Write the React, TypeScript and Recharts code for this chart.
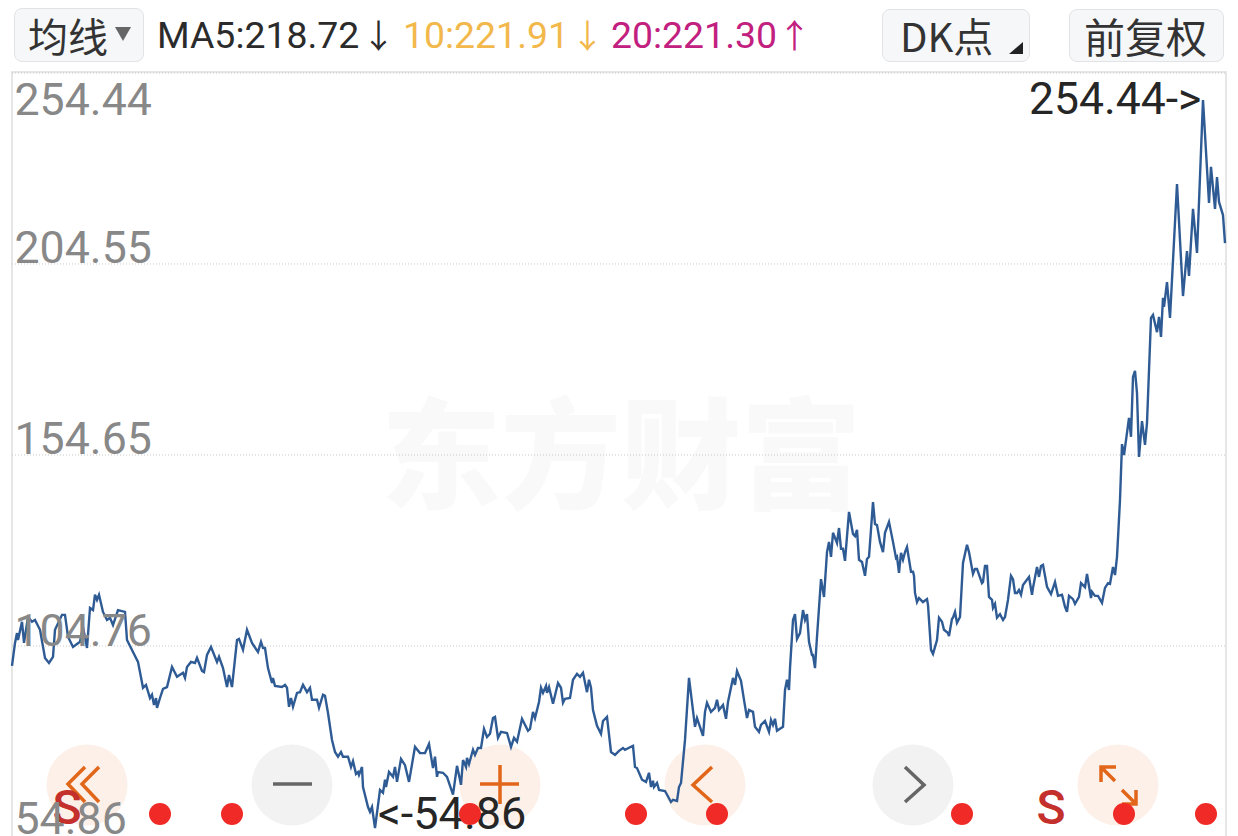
import React from "react";
import { ComposedChart, Line, XAxis, YAxis, CartesianGrid, ReferenceDot } from "recharts";

const sessions = [0,3,5,6,10,12,16,20,23,28,33,37,41,43,50,53,56,61,68,71,75,78,81,83,85,87,91,95,98,101,106,113,115,121,126,131,134,138,140,142,144,145,148,151,155,160,165,171,173,175,179,183,185,190,192,195,199,205,207,211,215,217,220,225,227,231,235,240,246,249,251,253,256,260,261,263,270,273,275,277,279,281,285,288,291,295,298,
300,305,307,311,313,316,320,323,326,329,331,336,339,341,344,346,347,350,351,356,358,360,363,368,371,373,374,377,381,383,385,389,393,397,403,408,413,417,421,423,425,426,431,435,441,445,449,451,454,455,457,461,463,466,469,472,475,478,481,483,486,489,495,499,502,505,510,516,518,521,523,527,529,531,534,535,537,541,546,549,551,553,558,561,565,568,571,575,577,579,581,585,589,591,595,599,603,607,611,613,621,623,625,630,634,637,639,641,642,645,647,653,659,661,665,667,669,673,677,683,685,691,693,695,699,703,705,707,711,714,716,721,723,725,729,732,735,737,741,743,747,749,753,757,759,761,763,765,771,773,775,777,778,781,783,785,788,791,793,795,797,800,801,803,805,809,812,815,817,819,821,825,827,829,831,833,837,841,843,845,847,850,853,855,857,861,863,865,868,871,873,877,881,884,885,887,889,891,893,895,899,901,902,903,905,907,911,915,916,919,921,925,927,930,932,936,937,940,941,943,945,948,951,955,957,961,963,965,970,971,973,975,977,980,981,983,985,988,991,993,996,999,1001,1003,1005,1007,1009,1011,1014,1017,1020,1021,1025,1027,1029,1031,1035,1039,1043,1046,1050,1053,1055,1057,1061,1063,1067,1069,1073,1075,1079,1080,1083,1086,1090,1093,1096,1098,1101,1103,1105,1108,1110,1112,1117,1119,1121,1123,1125,1127,1130,1133,1135,1139,1141,1145,1147,1149,1151,1152,1155,1158,1165,1171,1175,1177,1181,1185,1191,1197,1199,1203,1205,1207,1211,1213];

const closes = [99.3,105.6,108.3,106.4,111.4,105.6,112.7,111.4,111.9,109.2,101.5,100.1,101.8,109.2,113.3,113.3,107.3,104.5,105.9,110.0,104.2,115.2,114.6,118.8,117.4,118.8,114.1,111.9,112.5,110.5,114.6,114.1,106.4,103.1,100.4,93.3,94.1,90.5,91.4,88.6,90.5,87.8,90.5,93.0,93.5,99.0,96.3,97.4,96.0,99.0,100.4,100.1,101.5,97.9,97.6,102.3,104.5,100.4,101.8,98.7,93.5,96.8,93.5,106.4,106.7,103.7,109.2,105.6,103.1,105.9,104.2,104.2,98.7,94.6,96.0,93.8,93.5,94.1,93.3,88.1,90.5,88.1,91.9,92.1,94.1,92.1,93.3,
90.0,90.0,87.8,91.4,91.1,86.4,79.0,75.7,74.4,75.7,74.4,74.4,71.6,73.2,69.7,70.2,69.4,71.6,66.1,60.6,59.3,60.6,54.86,65.3,64.5,68.1,66.1,70.2,68.9,71.6,67.5,73.8,72.1,67.5,77.1,75.4,75.4,77.9,71.3,74.4,68.9,70.2,70.0,68.9,64.0,71.9,66.7,73.5,71.6,74.1,72.4,76.3,74.9,76.8,76.8,82.0,79.8,80.7,85.0,85.3,79.6,81.2,80.9,77.1,79.6,78.5,84.8,81.5,82.0,86.7,85.0,89.4,93.3,91.9,93.8,91.9,93.5,88.9,94.6,93.3,89.2,90.3,90.5,95.5,97.1,96.3,97.4,92.1,95.5,93.3,87.2,82.9,80.7,84.2,85.3,75.7,74.9,76.0,76.8,76.3,77.4,71.6,71.3,68.1,67.5,70.0,66.1,67.8,66.1,67.2,65.3,65.0,62.0,62.6,62.3,66.1,67.2,79.0,96.0,82.6,85.0,80.1,86.7,89.2,86.7,87.8,90.0,87.2,88.6,84.8,89.4,96.0,94.1,97.9,95.2,90.0,85.0,87.2,86.7,82.6,81.2,83.1,84.2,81.2,84.5,83.1,84.8,81.5,82.6,92.7,95.5,92.7,98.7,111.9,113.5,106.7,108.3,114.6,111.9,113.5,105.9,102.3,102.3,98.7,107.3,123.1,118.2,130.5,133.3,129.2,135.8,133.0,137.1,131.4,131.4,128.1,141.5,135.5,134.9,136.6,128.4,127.8,124.0,128.6,129.2,144.2,138.2,137.9,133.3,130.5,135.8,138.8,133.3,128.9,129.2,124.8,130.3,128.4,130.5,131.9,125.1,125.1,124.0,119.3,116.8,117.9,116.8,117.6,116.0,103.7,102.6,106.4,112.5,111.4,109.2,108.3,107.5,112.2,112.5,114.1,111.1,112.7,127.5,132.5,130.5,124.5,125.9,125.9,122.0,122.3,126.7,126.7,118.2,117.4,115.2,116.3,112.5,113.5,111.9,112.7,117.4,124.0,123.1,119.3,119.3,120.1,118.8,121.5,122.6,123.7,118.8,120.7,126.4,123.7,126.7,127.0,121.0,119.0,122.3,118.5,118.8,115.5,114.1,118.5,117.6,116.3,118.2,122.0,120.9,124.5,117.9,119.6,118.5,118.5,116.6,120.7,122.0,121.8,126.4,124.2,129.2,144.8,160.1,157.1,167.3,162.1,178.5,180.2,174.1,156.6,166.4,159.9,165.9,194.7,195.5,190.8,195.0,189.5,200.2,197.7,204.5,194.7,231.4,200.7,213.0,206.2,224.6,212.5,254.44,226.2,236.1,224.6,233.3,226.5,222.9,215.2];

const priceTicks = [254.44, 204.55, 154.65, 104.76, 54.86];
const buySignals = [148, 220, 458, 624, 705, 950, 1112, 1194];
const sellSignals = [55, 1039];
const signalLevel = 58.7;

const rows = sessions.map((session, i) => ({ session, close: closes[i] }));

const tickOffsets: Record<number, number> = { 254.44: 27, 204.55: -16, 154.65: -16, 104.76: -15, 54.86: -18 };
const LATIN = "Roboto, 'Noto Sans CJK SC', sans-serif";
const CJK = "'Noto Sans CJK SC', Roboto, sans-serif";

function Txt({ left, cy, size, color, font, children }: any) {
  return (
    <div style={{ position: "absolute", left, top: cy, transform: "translateY(-50%)", fontSize: size, color, fontFamily: font ?? LATIN, lineHeight: 1, whiteSpace: "nowrap" }}>
      {children}
    </div>
  );
}

function Btn({ left, top, width, height }: any) {
  return <div style={{ position: "absolute", left, top, width, height, boxSizing: "border-box", background: "#f6f7f9", border: "1px solid #e2e3e6", borderRadius: 8 }} />;
}

const PriceTick = (p: any) => (
  <text x={14.5} y={p.y + (tickOffsets[p.payload.value] ?? 0)} dominantBaseline="central" fontFamily={LATIN} fontSize={44.7} fill="#888888" textAnchor="start">
    {p.payload.value.toFixed(2)}
  </text>
);

const SellMark = (p: any) => (
  <text x={p.cx} y={p.cy - 6} textAnchor="middle" dominantBaseline="central" fontFamily="Roboto, sans-serif" fontWeight={500} fontSize={48} fill="#c4302b">S</text>
);

const buttons = [
  { cx: 87, bg: "#fdf0e8" },
  { cx: 292, bg: "#f2f2f2" },
  { cx: 500, bg: "#fdf0e8" },
  { cx: 705, bg: "#fdf0e8" },
  { cx: 913, bg: "#f2f2f2" },
  { cx: 1118, bg: "#fdf0e8" },
];

function NavIcons() {
  const o = "#e2661a";
  const g = "#666666";
  return (
    <svg width={1238} height={836} style={{ position: "absolute", left: 0, top: 0 }}>
      {buttons.map((b) => <circle key={b.cx} cx={b.cx} cy={785} r={40.5} fill={b.bg} />)}
      <g fill="none" strokeWidth={3.5}>
        <path d="M85 767 L68 784 L85 802 M99 767 L82 784 L99 802" stroke={o} />
        <path d="M273 784 H312" stroke={g} />
        <path d="M480 784 H519 M500 765 V804" stroke={o} />
        <path d="M712 767 L693 785 L712 802" stroke={o} />
        <path d="M905 767 L924 785 L905 802" stroke={g} />
        <path d="M1101 782 V767 H1116 M1102 768 L1115 781 M1136 790 V804 H1122 M1135 803 L1122 790" stroke={o} />
      </g>
    </svg>
  );
}

export default function App() {
  return (
    <div style={{ position: "fixed", left: 0, top: 0, width: 1238, height: 836, overflow: "hidden", background: "#fff" }}>
      <Btn left={14} top={8} width={130} height={54} />
      <Btn left={882} top={9} width={148} height={53} />
      <Btn left={1069} top={9} width={155} height={53} />

      <Txt left={28} cy={35} size={40} color="#333" font={CJK}>均线</Txt>
      <div style={{ position: "absolute", left: 115, top: 27, width: 0, height: 0, borderLeft: "8px solid transparent", borderRight: "8px solid transparent", borderTop: "14px solid #666" }} />
      <Txt left={157} cy={36} size={37.4} color="#2b2b2b">MA5:218.72</Txt>
      <Txt left={362} cy={36} size={33} color="#2b2b2b">↓</Txt>
      <Txt left={403} cy={36} size={37.4} color="#f2b84b">10:221.91</Txt>
      <Txt left={571} cy={36} size={33} color="#f2b84b">↓</Txt>
      <Txt left={611} cy={36} size={37.4} color="#c2207f">20:221.30</Txt>
      <Txt left={778} cy={36} size={33} color="#c2207f">↑</Txt>
      <Txt left={900} cy={35} size={40} color="#333" font={CJK}>DK点</Txt>
      <div style={{ position: "absolute", left: 1009, top: 42, width: 0, height: 0, borderLeft: "14px solid transparent", borderBottom: "12px solid #222" }} />
      <Txt left={1084} cy={35} size={41} color="#333" font={CJK}>前复权</Txt>

      <div style={{ position: "absolute", left: 11, top: 71, width: 1216, height: 780, boxSizing: "border-box", border: "2px solid #e6e6e6" }} />
      <div style={{ position: "absolute", left: 381, top: 382, fontFamily: CJK, fontWeight: 900, fontSize: 120, lineHeight: 1.1, color: "#f9f9f9", whiteSpace: "nowrap" }}>东方财富</div>
      <NavIcons />
      <Txt left={1029} cy={99} size={44.5} color="#262626">254.44-&gt;</Txt>
      <Txt left={378} cy={813} size={45} color="#262626">&lt;-54.86</Txt>

      <div style={{ position: "absolute", left: 0, top: 0 }}>
        <ComposedChart width={1238} height={837} data={rows} margin={{ top: 73, right: 13, bottom: 0, left: 11 }}>
          <CartesianGrid yAxisId="scale" horizontal vertical={false} stroke="#c8c8c8" strokeDasharray="1 2" />
          <XAxis dataKey="session" type="number" domain={[0, 1213]} hide />
          <YAxis yAxisId="scale" domain={[54.86, 254.44]} allowDataOverflow ticks={priceTicks} interval={0} width={1} axisLine={false} tickLine={false} tick={PriceTick} />
          <YAxis yAxisId="price" domain={[54.86, 254.44]} padding={{ top: 27, bottom: 9 }} hide />
          <Line yAxisId="price" type="linear" dataKey="close" stroke="#2f5b95" strokeWidth={2.4} dot={false} isAnimationActive={false} />
          {buySignals.map((s) => (
            <ReferenceDot key={s} yAxisId="price" x={s} y={signalLevel} r={11} fill="#f02a26" stroke="none" />
          ))}
          {sellSignals.map((s) => (
            <ReferenceDot key={s} yAxisId="price" x={s} y={signalLevel} r={11} shape={SellMark} />
          ))}
        </ComposedChart>
      </div>
    </div>
  );
}
